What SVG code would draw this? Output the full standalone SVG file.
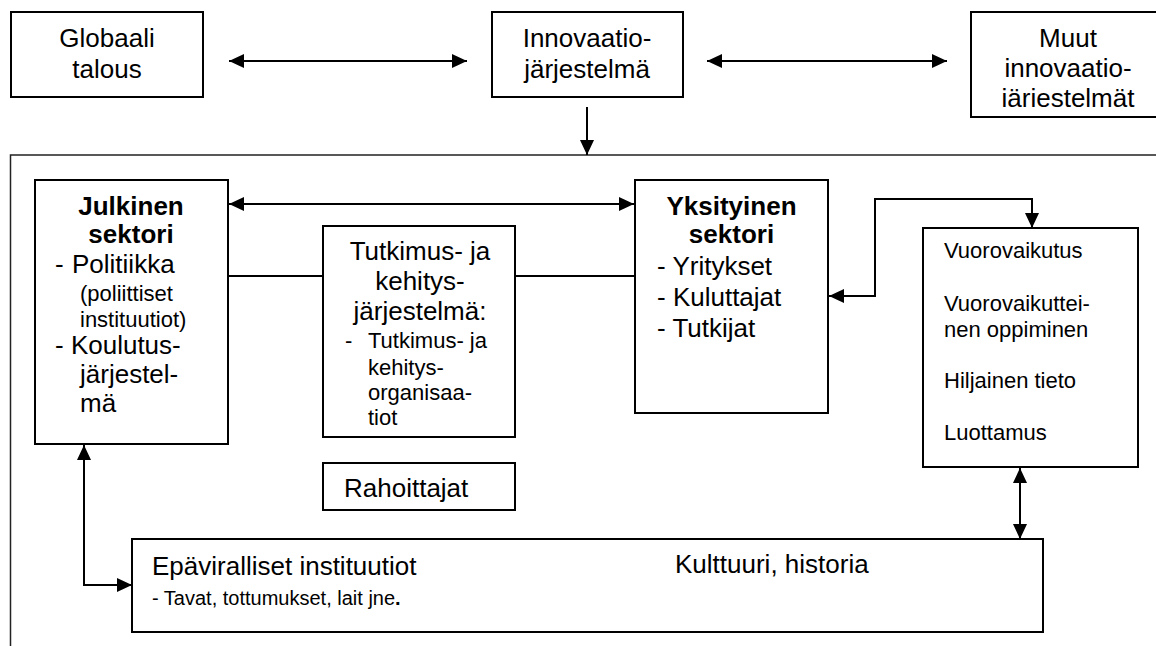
<svg xmlns="http://www.w3.org/2000/svg" width="1156" height="646" viewBox="0 0 1156 646">
<style>
  .box { fill: #fff; stroke: #000; stroke-width: 2; }
  .outer { fill: none; stroke: #222; stroke-width: 1.5; }
  .t { font-family: "Liberation Sans", Arial, sans-serif; font-size: 26px; fill: #000; }
  .s { font-family: "Liberation Sans", Arial, sans-serif; font-size: 22px; fill: #000; }
  .xs { font-family: "Liberation Sans", Arial, sans-serif; font-size: 20px; fill: #000; }
  .b { font-weight: bold; }
  .c { text-anchor: middle; }
  .ln { fill: none; stroke: #000; stroke-width: 2; }
</style>
<defs>
  <marker id="ah" markerUnits="userSpaceOnUse" markerWidth="15" markerHeight="14" refX="15" refY="7" orient="auto-start-reverse">
    <path d="M0,0 L15,7 L0,14 z" fill="#000"/>
  </marker>
</defs>

<rect id="kehys" class="outer" x="10.5" y="155" width="1200" height="600"/>

<g id="globaali">
  <rect class="box" x="11" y="12" width="192" height="85"/>
  <text class="t c" x="107" y="47">Globaali</text>
  <text class="t c" x="107" y="78">talous</text>
</g>
<g id="innovaatiojarjestelma">
  <rect class="box" x="492" y="12" width="191" height="85"/>
  <text class="t c" x="587" y="47">Innovaatio-</text>
  <text class="t c" x="587" y="78">järjestelmä</text>
</g>
<g id="muut">
  <rect class="box" x="971" y="12" width="194" height="105"/>
  <text class="t c" x="1068" y="47">Muut</text>
  <text class="t c" x="1068" y="77">innovaatio-</text>
  <text class="t c" x="1068" y="107">iäriestelmät</text>
</g>

<g id="julkinen">
  <rect class="box" x="35" y="180" width="193" height="264"/>
  <text class="t b c" x="131" y="215">Julkinen</text>
  <text class="t b c" x="131" y="243">sektori</text>
  <text class="t" x="55" y="273">-</text>
  <text class="t" x="72" y="273">Politiikka</text>
  <text class="s" x="80" y="301">(poliittiset</text>
  <text class="s" x="80" y="327">instituutiot)</text>
  <text class="t" x="55" y="354">- Koulutus-</text>
  <text class="t" x="80" y="383">järjestel-</text>
  <text class="t" x="80" y="412">mä</text>
</g>
<g id="tutkimus">
  <rect class="box" x="323" y="226" width="192" height="211"/>
  <text class="t c" x="420" y="260">Tutkimus- ja</text>
  <text class="t c" x="420" y="290">kehitys-</text>
  <text class="t c" x="420" y="320">järjestelmä:</text>
  <text class="s" x="345" y="348">-</text>
  <text class="s" x="368" y="348">Tutkimus- ja</text>
  <text class="s" x="368" y="375">kehitys-</text>
  <text class="s" x="368" y="400">organisaa-</text>
  <text class="s" x="368" y="425">tiot</text>
</g>
<g id="yksityinen">
  <rect class="box" x="635" y="180" width="193" height="233"/>
  <text class="t b c" x="731.5" y="215">Yksityinen</text>
  <text class="t b c" x="731.5" y="243">sektori</text>
  <text class="t" x="657" y="275">- Yritykset</text>
  <text class="t" x="657" y="306">- Kuluttajat</text>
  <text class="t" x="657" y="337">- Tutkijat</text>
</g>
<g id="vuorovaikutus">
  <rect class="box" x="923" y="228" width="215" height="239"/>
  <text class="s" x="944" y="258">Vuorovaikutus</text>
  <text class="s" x="944" y="311">Vuorovaikuttei-</text>
  <text class="s" x="944" y="337">nen oppiminen</text>
  <text class="s" x="944" y="388">Hiljainen tieto</text>
  <text class="s" x="944" y="440">Luottamus</text>
</g>
<g id="rahoittajat">
  <rect class="box" x="323" y="463" width="192" height="47"/>
  <text class="t" x="344" y="497">Rahoittajat</text>
</g>
<g id="epaviralliset">
  <rect class="box" x="132" y="539" width="911" height="93"/>
  <text class="t" x="152" y="575">Epäviralliset instituutiot</text>
  <text class="xs" x="152" y="605">- Tavat, tottumukset, lait jne<tspan class="b">.</tspan></text>
  <text class="t" x="675" y="573">Kulttuuri, historia</text>
</g>

<g id="connectors">
  <line class="ln" x1="229" y1="61" x2="467" y2="61" marker-start="url(#ah)" marker-end="url(#ah)"/>
  <line class="ln" x1="707" y1="61" x2="947" y2="61" marker-start="url(#ah)" marker-end="url(#ah)"/>
  <line class="ln" x1="587" y1="107" x2="587" y2="155" marker-end="url(#ah)"/>
  <line class="ln" x1="229" y1="204" x2="634" y2="204" marker-start="url(#ah)" marker-end="url(#ah)"/>
  <line class="ln" x1="228" y1="276" x2="323" y2="276"/>
  <line class="ln" x1="515" y1="276" x2="635" y2="276"/>
  <polyline class="ln" points="829,296 875,296 875,199 1032,199 1032,228" marker-start="url(#ah)" marker-end="url(#ah)"/>
  <line class="ln" x1="1020" y1="468" x2="1020" y2="539" marker-start="url(#ah)" marker-end="url(#ah)"/>
  <polyline class="ln" points="84,445 84,585 132,585" marker-start="url(#ah)" marker-end="url(#ah)"/>
</g>
</svg>
